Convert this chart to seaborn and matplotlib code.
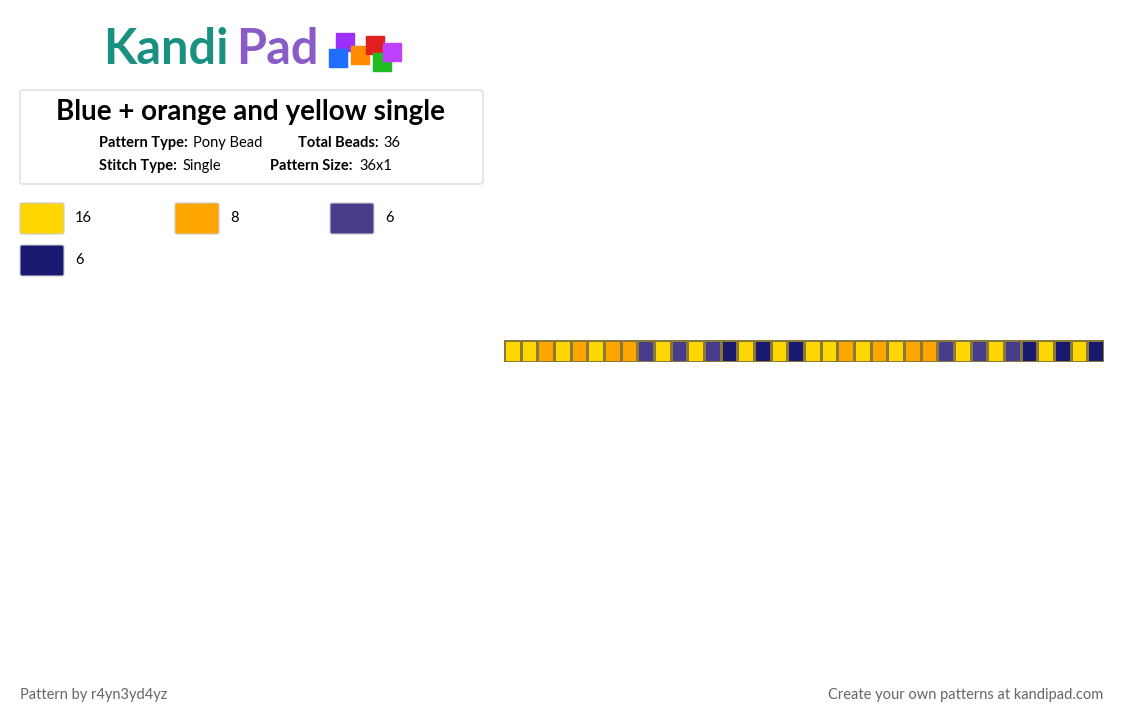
import matplotlib
matplotlib.use("Agg")
import matplotlib.pyplot as plt
from matplotlib.patches import FancyBboxPatch, Rectangle
from matplotlib.colors import ListedColormap
import seaborn as sns
import numpy as np

colors = ["#FFD700", "#FFA500", "#483D8B", "#191970"]
counts = [16, 8, 6, 6]
half = [0, 0, 1, 0, 1, 0, 1, 1, 2, 0, 2, 0, 2, 3, 0, 3, 0, 3]
beads = half + half

W, H = 1124, 720
fig = plt.figure(figsize=(W/100, H/100), dpi=100)
fig.patch.set_facecolor("white")
plt.rcParams['font.family'] = ['Lato', 'DejaVu Sans']

def ax_px(x, y, w, h):
    return fig.add_axes([x/W, 1-(y+h)/H, w/W, h/H])

ax = ax_px(504, 340, 600, 22)
sns.heatmap(np.array([beads]), cmap=ListedColormap(colors), vmin=-0.5, vmax=3.5,
            cbar=False, linewidths=1, linecolor="#8a7a3a", ax=ax,
            xticklabels=False, yticklabels=False)
ax.set_axis_off()

o = fig.add_axes([0, 0, 1, 1]); o.set_xlim(0, W); o.set_ylim(H, 0); o.set_axis_off()

o.text(103, 50, "Kandi", fontsize=35, fontweight="bold", color="#1a9080", va="center")
o.text(236, 50, "Pad", fontsize=35, fontweight="bold", color="#8a5cc8", va="center")
for cx, cy, c in [(345, 42, "#9b30ff"), (360, 55, "#ff8c00"), (338, 58, "#1e6fff"), (375, 45, "#e02020"), (382, 62, "#22bb22"), (392, 52, "#c040ff")]:
    o.add_patch(Rectangle((cx-9, cy-9), 18, 18, color=c, zorder=3))

o.add_patch(FancyBboxPatch((20, 90), 463, 94, boxstyle="round,pad=0,rounding_size=3",
                           fc="white", ec="#dddddd", lw=1))
o.text(251, 112, "Blue + orange and yellow single", fontsize=20, fontweight="bold", ha="center", va="center")
fs = 10.5
o.text(99, 143, "Pattern Type:", fontsize=fs, fontweight="bold", va="center")
o.text(193, 143, "Pony Bead", fontsize=fs, va="center")
o.text(298, 143, "Total Beads:", fontsize=fs, fontweight="bold", va="center")
o.text(383, 143, "36", fontsize=fs, va="center")
o.text(99, 166, "Stitch Type:", fontsize=fs, fontweight="bold", va="center")
o.text(183, 166, "Single", fontsize=fs, va="center")
o.text(270, 166, "Pattern Size:", fontsize=fs, fontweight="bold", va="center")
o.text(359, 166, "36x1", fontsize=fs, va="center")

pos = [(20, 203), (175, 203), (330, 203), (20, 245)]
for (x, y), c, n in zip(pos, colors, counts):
    o.add_patch(FancyBboxPatch((x, y), 44, 31, boxstyle="round,pad=0,rounding_size=2", fc=c, ec="#cccccc", lw=0.8))
    o.text(x+55, y+15, str(n), fontsize=fs, va="center")

o.text(20, 695, "Pattern by r4yn3yd4yz", fontsize=fs, color="#666666", va="center")
o.text(1103, 695, "Create your own patterns at kandipad.com", fontsize=fs, color="#666666", va="center", ha="right")

fig.savefig("out.png", dpi=100, facecolor="white")
